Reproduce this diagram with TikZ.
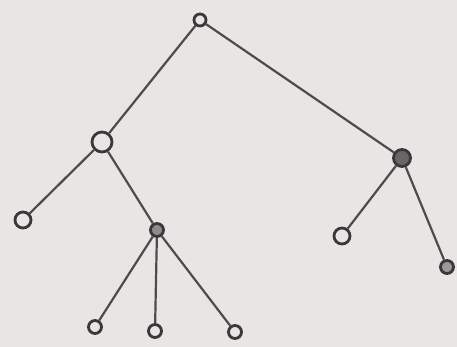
\documentclass[tikz,border=0pt]{standalone}
\begin{document}
\begin{tikzpicture}[x=1pt,y=-1pt,
  ink/.style={draw=black!78, line width=2.8pt},
  vtx/.style={circle, ink, fill=paper, inner sep=0pt},
  edge/.style={draw=black!70, line width=2.2pt}]
\definecolor{paper}{HTML}{E9E5E5}
\fill[paper] (0,0) rectangle (457,347);
\useasboundingbox (0,0) rectangle (457,347);
\node[vtx, minimum size=12pt] (r) at (200,20) {};
\node[vtx, minimum size=20pt] (a) at (102,142) {};
\node[vtx, minimum size=17pt, fill=black!60] (b) at (402,158) {};
\node[vtx, minimum size=16pt] (aa) at (23,220) {};
\node[vtx, minimum size=13pt, fill=black!45] (ab) at (157,230) {};
\node[vtx, minimum size=16pt] (ba) at (342,236) {};
\node[vtx, minimum size=13pt, fill=black!40] (bb) at (447,267) {};
\node[vtx, minimum size=13pt] (c1) at (95,327) {};
\node[vtx, minimum size=13pt] (c2) at (155,331) {};
\node[vtx, minimum size=13pt] (c3) at (235,332) {};
\draw[edge] (r) -- (a);
\draw[edge] (r) -- (b);
\draw[edge] (a) -- (aa);
\draw[edge] (a) -- (ab);
\draw[edge] (b) -- (ba);
\draw[edge] (b) -- (bb);
\draw[edge] (ab) -- (c1);
\draw[edge] (ab) -- (c2);
\draw[edge] (ab) -- (c3);
\end{tikzpicture}
\end{document}
